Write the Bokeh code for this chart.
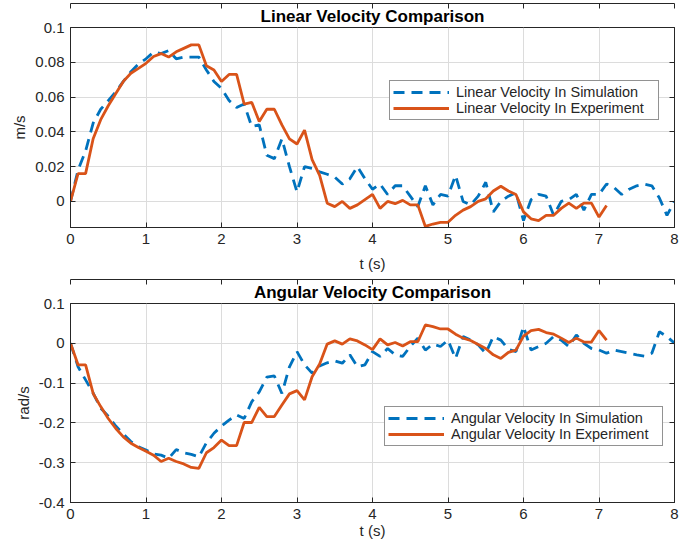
from bokeh.plotting import figure
from bokeh.layouts import column
from bokeh.models import (Range1d, LinearAxis, Legend, LegendItem, Title,
                          CustomJSTickFormatter, FixedTicker)
from bokeh.embed import file_html
from bokeh.resources import INLINE

# ---------------- data ----------------
t_sim = [0.0, 0.1, 0.2, 0.3, 0.4, 0.5, 0.6, 0.7, 0.8, 0.9,
         1.0, 1.1, 1.2, 1.3, 1.4, 1.5, 1.6, 1.7, 1.8, 1.9,
         2.0, 2.1, 2.2, 2.3, 2.4, 2.5, 2.6, 2.7, 2.8, 2.9,
         3.0, 3.1, 3.2, 3.3, 3.4, 3.5, 3.6, 3.7, 3.8, 3.9,
         4.0, 4.1, 4.2, 4.3, 4.4, 4.5, 4.6, 4.7, 4.8, 4.9,
         5.0, 5.1, 5.2, 5.3, 5.4, 5.5, 5.6, 5.7, 5.8, 5.9,
         6.0, 6.1, 6.2, 6.3, 6.4, 6.5, 6.6, 6.7, 6.8, 6.9,
         7.0, 7.1, 7.2, 7.3, 7.4, 7.5, 7.6, 7.7, 7.8, 7.9, 8.0]

t_exp = t_sim[:72]  # 0.0 .. 7.1

lin_sim = [0.0, 0.018, 0.029, 0.045, 0.053, 0.058, 0.063, 0.069, 0.0746, 0.079,
           0.082, 0.0858, 0.085, 0.0867, 0.082, 0.083, 0.083, 0.083, 0.0756, 0.069,
           0.065, 0.058, 0.054, 0.056, 0.043, 0.044, 0.0265, 0.0246, 0.036, 0.020,
           0.0054, 0.020, 0.019, 0.017, 0.0156, 0.014, 0.010, 0.013, 0.020, 0.013,
           0.007, 0.010, 0.004, 0.009, 0.009, 0.003, -0.003, 0.009, -0.002, 0.004,
           0.003, 0.015, 0.000, -0.002, 0.003, 0.011, -0.006, 0.000, 0.003, 0.005,
           -0.011, 0.001, 0.004, 0.003, -0.008, 0.000, 0.001, 0.004, -0.005, 0.004,
           0.004, 0.010, 0.008, 0.004, 0.007, 0.009, 0.010, 0.009, 0.002, -0.008, 0.000]

lin_exp = [0.0, 0.016, 0.016, 0.036, 0.047, 0.055, 0.062, 0.069, 0.0737, 0.0765,
           0.0794, 0.0833, 0.085, 0.083, 0.086, 0.088, 0.090, 0.090, 0.078, 0.0756,
           0.069, 0.073, 0.073, 0.056, 0.057, 0.046, 0.053, 0.053, 0.044, 0.036,
           0.033, 0.041, 0.024, 0.015, -0.001, -0.003, 0.0, -0.004, -0.002, 0.001,
           0.004, -0.004, 0.0, -0.0013, 0.0006, -0.002, -0.002, -0.0144, -0.013, -0.012,
           -0.012, -0.008, -0.005, -0.003, 0.0, 0.0015, 0.006, 0.0087, 0.006, 0.004,
           -0.006, -0.010, -0.011, -0.008, -0.008, -0.004, -0.001, -0.004, -0.001, -0.001,
           -0.009, -0.0023]

ang_sim = [0.0, -0.059, -0.092, -0.125, -0.163, -0.183, -0.208, -0.228, -0.247, -0.260,
           -0.268, -0.278, -0.281, -0.289, -0.267, -0.275, -0.279, -0.285, -0.250, -0.226,
           -0.208, -0.193, -0.180, -0.189, -0.147, -0.122, -0.085, -0.082, -0.126, -0.059,
           -0.021, -0.054, -0.075, -0.057, -0.049, -0.044, -0.050, -0.029, -0.059, -0.054,
           -0.021, -0.033, -0.013, -0.029, -0.033, -0.008, 0.013, -0.017, -0.002, -0.008,
           0.008, -0.038, 0.017, 0.008, -0.004, -0.025, 0.017, 0.008, -0.015, -0.021,
           0.042, -0.017, -0.008, 0.0, 0.017, 0.008, -0.008, 0.021, 0.0, -0.013,
           -0.017, -0.025, -0.017, -0.021, -0.025, -0.029, -0.032, -0.025, 0.029, 0.017, 0.0]

ang_exp = [0.0, -0.054, -0.054, -0.126, -0.159, -0.189, -0.214, -0.235, -0.251, -0.262,
           -0.271, -0.281, -0.297, -0.289, -0.297, -0.303, -0.312, -0.314, -0.275, -0.262,
           -0.243, -0.257, -0.257, -0.199, -0.199, -0.161, -0.184, -0.184, -0.155, -0.127,
           -0.119, -0.142, -0.084, -0.052, -0.002, 0.006, -0.002, 0.011, 0.006, -0.004,
           -0.016, 0.011, -0.004, 0.002, -0.007, 0.004, 0.004, 0.046, 0.042, 0.036,
           0.036, 0.023, 0.013, 0.007, -0.003, -0.013, -0.029, -0.038, -0.023, -0.017,
           0.018, 0.032, 0.035, 0.027, 0.023, 0.013, 0.002, 0.013, 0.003, 0.003,
           0.032, 0.008]

x_ticks = [0, 1, 2, 3, 4, 5, 6, 7, 8]
lin_ticks = [0.0, 0.02, 0.04, 0.06, 0.08, 0.1]
ang_ticks = [-0.4, -0.3, -0.2, -0.1, 0.0, 0.1]

# ---------------- style ----------------
BLUE = "#0072BD"
ORANGE = "#D95319"
TXT = "#262626"
FONT = "Liberation Sans"
W = 691

fmt = CustomJSTickFormatter(code="return String(Number(tick.toFixed(4)));")
blank = CustomJSTickFormatter(code="return '';")


def make_fig(title, ylabel, yr, yticks, height, top, bottom, xlab_standoff,
             s_label, e_label, y_sim, y_exp, leg_loc, leg_label_w):
    p = figure(width=W, height=height, x_range=Range1d(0, 8), y_range=yr,
               output_backend="svg", toolbar_location=None, tools="",
               min_border_left=70, min_border_right=17,
               min_border_top=top, min_border_bottom=bottom,
               background_fill_color="white", border_fill_color="white")
    p.title = None
    p.add_layout(Title(text=title, align="center", text_font=FONT,
                       text_font_size="17px", text_font_style="bold",
                       text_color="black", standoff=3, offset=0), "above")
    p.outline_line_color = TXT
    p.xaxis.ticker = FixedTicker(ticks=x_ticks)
    p.yaxis.ticker = FixedTicker(ticks=yticks)
    p.yaxis.formatter = fmt
    p.xaxis.axis_label = "t (s)"
    p.yaxis.axis_label = ylabel
    for ax in (p.xaxis[0], p.yaxis[0]):
        ax.major_tick_in = 5
        ax.major_tick_out = 0
        ax.minor_tick_in = 0
        ax.minor_tick_out = 0
        ax.axis_line_color = TXT
        ax.major_tick_line_color = TXT
        ax.major_label_text_font = FONT
        ax.major_label_text_font_size = "15px"
        ax.major_label_text_color = TXT
        ax.axis_label_text_font = FONT
        ax.axis_label_text_font_size = "15px"
        ax.axis_label_text_font_style = "normal"
        ax.axis_label_text_color = TXT
    p.xaxis.major_label_standoff = 6
    p.xaxis.axis_label_standoff = xlab_standoff
    p.yaxis.major_label_standoff = 6
    p.yaxis.axis_label_standoff = 4
    # mirrored ticks on top and right
    for loc, rng_ticks in (("above", x_ticks), ("right", yticks)):
        ax = LinearAxis(ticker=FixedTicker(ticks=rng_ticks), formatter=blank,
                        major_tick_in=5, major_tick_out=0,
                        minor_tick_in=0, minor_tick_out=0,
                        major_label_standoff=0,
                        axis_line_color=TXT, major_tick_line_color=TXT)
        p.add_layout(ax, loc)
    p.grid.grid_line_color = "#dcdcdc"
    p.grid.grid_line_width = 1
    p.xgrid.ticker = FixedTicker(ticks=x_ticks)
    p.ygrid.ticker = FixedTicker(ticks=yticks)

    r1 = p.line(t_sim, y_sim, line_color=BLUE, line_width=2.8, line_dash="11 7")
    r2 = p.line(t_exp, y_exp, line_color=ORANGE, line_width=2.8)
    leg = Legend(items=[LegendItem(label=s_label, renderers=[r1]),
                        LegendItem(label=e_label, renderers=[r2])],
                 location=leg_loc, orientation="vertical",
                 label_text_font=FONT, label_text_font_size="14.5px",
                 label_text_color=TXT, glyph_width=56, glyph_height=16,
                 label_height=16, label_width=leg_label_w, label_standoff=7,
                 spacing=0, padding=3,
                 margin=0, border_line_color=TXT, border_line_width=1,
                 background_fill_color="white", background_fill_alpha=1.0)
    p.add_layout(leg)
    return p


p1 = make_fig("Linear Velocity Comparison", "m/s", Range1d(-0.015, 0.1), lin_ticks,
              279, 27, 52, 8,
              "Linear Velocity In Simulation", "Linear Velocity In Experiment",
              lin_sim, lin_exp, (319, 107), 199)
p2 = make_fig("Angular Velocity Comparison", "rad/s", Range1d(-0.4, 0.1), ang_ticks,
              269, 24, 46, 0,
              "Angular Velocity In Simulation", "Angular Velocity In Experiment",
              ang_sim, ang_exp, (314, 56), 208)

layout = column(p1, p2, spacing=0)
open("out.html", "w").write(file_html(layout, INLINE))
